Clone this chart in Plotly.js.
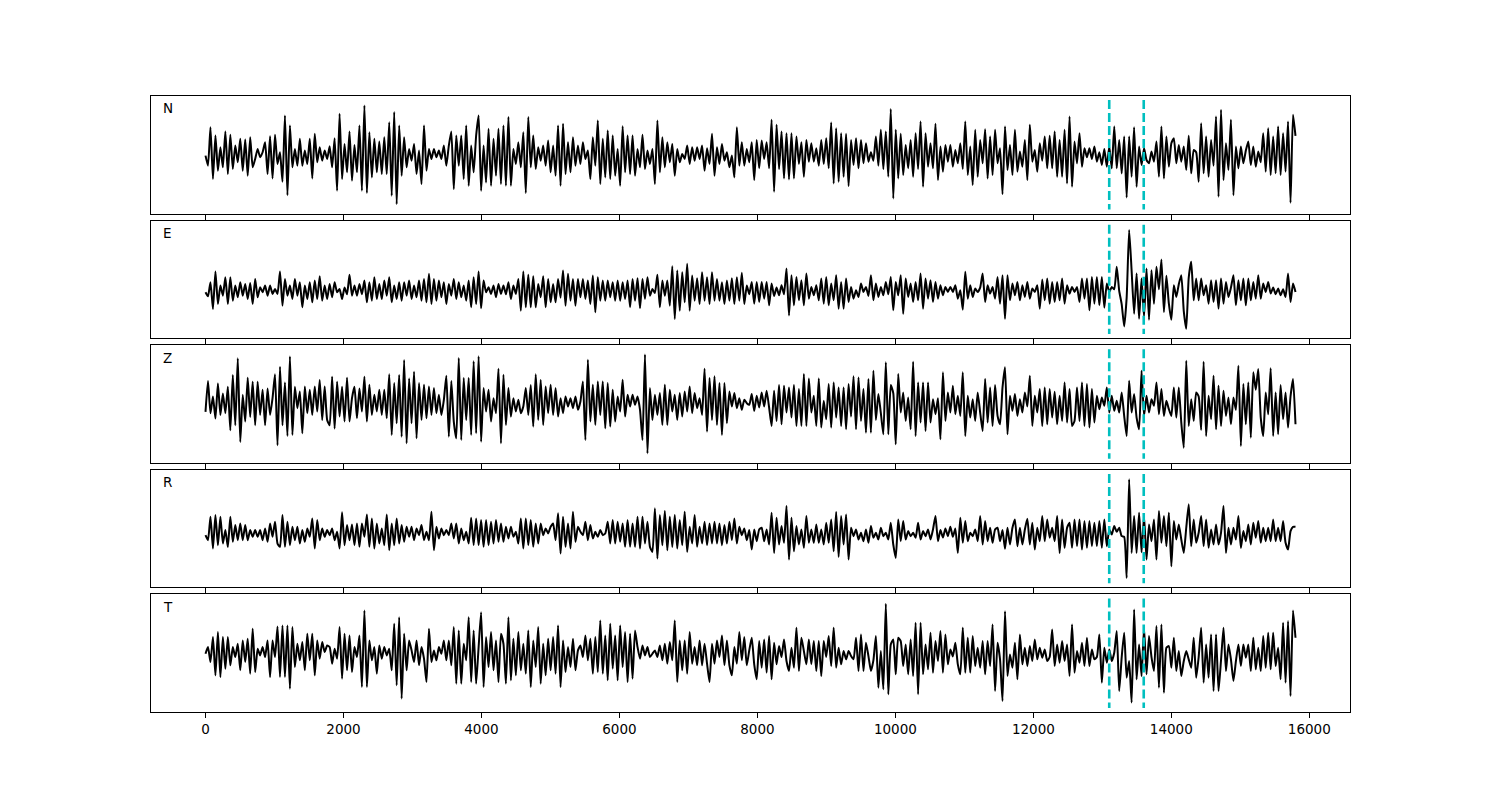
<!DOCTYPE html>
<html>
<head>
<meta charset="utf-8">
<script src="https://cdn.plot.ly/plotly-3.0.1.min.js"></script>
<style>html,body{margin:0;padding:0;background:#fff;}#chart{width:1500px;height:800px;}</style>
</head>
<body>
<div id="chart"></div>
<script>
// ---- data (amplitudes, arbitrary units) ----
const componentLabels = ['N', 'E', 'Z', 'R', 'T'];
const timeStart = 0;
const timeEnd = 15800;
const markerTimes = [13100, 13600];
const tickValues = [0, 2000, 4000, 6000, 8000, 10000, 12000, 14000, 16000];
const tickLabels = ['0', '2000', '4000', '6000', '8000', '10000', '12000', '14000', '16000'];

const ampN = [
0,-30,85,-70,60,-45,25,-35,72,-55, 62,-40,30,-20,50,-45,48,-60,55,-35,
-10,20,-5,10,40,-55,58,-68,62,-25, 10,-78,120,-118,90,-35,20,-30,50,-30,
15,-25,50,-68,65,-20,25,-15,15,-10, 28,-35,52,-105,125,-70,35,-50,72,-75,
32,-50,90,-105,150,-112,70,-65,50,-50, 42,-55,55,-55,100,-120,130,-145,90,-60,
55,-35,20,-15,35,-55,15,-85,90,-45, 20,-10,20,-5,15,-10,30,-30,30,72,
-100,60,-30,60,-70,90,-90,30,-50,60, 120,-105,30,-80,80,-90,50,-60,80,-85,
90,-90,115,-90,20,-25,40,-35,70,-112, 115,-35,60,-40,25,-15,30,-30,45,-50,
30,-60,90,-90,95,-55,40,-50,55,-30, 30,-25,40,-10,15,-70,55,-30,105,-85,
50,-65,75,-70,60,-60,20,-90,88,-50, 60,-55,60,-60,20,-35,62,-40,15,-25,
20,-85,105,-50,55,-35,40,-20,35,-60, 20,-20,5,-10,30,-25,25,-15,25,-10,
30,-45,22,-25,65,-60,25,-25,35,-15, 10,-35,0,-65,85,-30,40,-30,20,-20,
40,-73,47,-38,45,-10,40,-38,107,-108, 92,-40,72,-68,67,-71,67,-68,57,-25,
40,-63,47,-18,37,-18,22,-30,47,-25, 52,-38,99,-83,82,-78,67,-63,65,-91,
47,-28,52,-38,47,-23,37,-18,10,-15, 57,-30,77,-40,72,-63,139,-128,77,-68,
65,-58,32,-38,47,-63,67,-40,102,-93, 67,-33,37,-38,95,-73,27,-48,32,-18,
32,-33,17,-23,37,-40,102,-58,27,-88, 77,-63,47,-23,79,-68,57,-58,77,-23,
22,-115,87,-43,32,-58,77,-48,12,-33, 47,-73,92,-18,17,-48,37,-15,57,-38,
59,-38,72,-63,47,-63,77,-83,117,-93, 42,-23,67,-33,22,-5,22,-10,27,-18,
10,-28,20,-33,27,-38,87,-38,47,-53, 57,-125,57,-63,85,-93,27,-28,22,-13,
-23,12,-18,42,-63,87,-68,57,-33,37, 52,-23,32,-18,27,-43,59,-53,17,10,
-78,97,-53,57,-63,47,-30,117,-123,137, -73,37,-43,107,-118,27,-38,27,-23,15,
42,-28,27,-33,12,-20,67,-48,82,-58, 57,-53,87,-58,67,-48,102,-141,122,59
];

const ampE = [
-4,-16,26,-54,58,-39,16,-14,41,-39, 41,-29,16,-19,26,-14,21,-24,24,-39,
36,-19,11,-4,16,-14,16,-9,6,-9, 58,-44,36,-14,16,-24,36,-14,26,-49,
16,-24,26,-34,31,-24,44,-29,16,-24, 21,-19,26,-4,6,-24,10,-10,48,-14,
16,-14,21,-10,31,-34,26,-29,41,-24, 21,-24,31,-14,41,-34,16,-24,26,-29,
26,-14,31,-24,16,-19,31,-29,36,-34, 51,-39,36,-29,31,-19,26,-39,21,-14,
36,-24,26,-19,16,-29,31,-49,41,-39, 58,-52,31,-4,11,-9,16,-19,21,-9,
16,-10,26,-24,16,-9,36,-59,58,-49, 48,-49,44,-49,21,-19,44,-49,36,-34,
21,-34,36,-20,61,-44,51,-29,36,-44, 36,-19,36,-24,31,-39,46,-64,41,-29,
31,-29,31,-19,26,-29,31,-29,26,-24, 31,-49,36,-29,38,-52,36,-24,41,-14,
6,-6,48,-49,31,-14,31,-44,74,-84, 61,-59,56,-34,81,-59,46,-29,38,-39,
56,-29,41,-39,56,-29,36,-29,26,-39, 31,-29,38,-39,41,-29,54,-39,16,-10,
27,-38,27,-33,27,-23,27,-43,22,-15, 10,-13,17,-10,67,-73,47,-43,42,-28,
32,-43,52,-23,12,-13,17,-28,37,-38, 42,-43,22,-28,47,-53,27,-53,37,-33,
12,-23,2,-18,22,-3,12,-15,47,-28, 22,-18,12,-13,27,-10,42,-58,27,-13,
47,-68,37,-18,22,-33,27,-28,52,-53, 37,-23,32,-33,27,-23,17,-13,12,-3,
12,-3,17,-23,2,-56,57,-23,17,-18, 7,-3,10,52,-33,17,-8,12,-23,42,
-38,47,-83,47,-28,22,-13,27,-28,17, -18,27,-23,7,-3,17,-53,34,-28,37,
-38,27,-33,27,-28,37,-38,17,-8,12, -3,12,-33,37,-23,37,-58,42,-38,42,
-43,42,-50,22,-3,12,5,72,0,-40, -106,-20,182,60,-68,52,-83,37,-78,67,
-86,62,-38,72,5,94,-63,45,-38,-86, 17,-18,20,47,-60,-113,40,87,-28,37,
-28,37,-13,17,-38,32,-33,32,-53,37, -38,27,-18,10,47,-43,32,-28,37,-43,
37,-28,27,-23,47,-23,22,-3,27,-8, 10,-10,7,-13,5,-18,52,-33,22,-3
];

const ampZ = [
-26,66,-30,20,-46,59,-35,29,-30,49, -81,84,-66,134,-116,25,-55,76,-41,64,
-66,64,-35,40,-66,44,-35,15,86,-126, 109,-66,62,-98,139,-95,49,-15,35,-90,
50,-30,40,-35,50,-25,69,-50,50,-50, -66,79,-76,64,-40,49,-55,76,-55,15,
49,-45,44,-25,79,-55,55,-35,25,-25, 40,-35,40,-45,86,-95,60,-60,84,-100,
129,-120,74,-60,94,-105,60,-50,55,-45, 50,-35,45,-30,25,-35,10,82,-100,66,
-55,-105,135,-110,75,-50,75,-95,125,-90, 140,-115,45,-25,40,-55,15,-30,103,-120,
85,-65,45,-40,15,-25,10,-30,-10,45, -35,54,-70,86,-50,69,-65,50,-30,55,
-35,45,-40,15,-30,20,-10,15,-15,20, -20,5,65,-110,130,-55,55,-65,65,-35,
65,-75,60,-70,40,-55,20,-25,70,-40, 25,-10,25,-5,20,-20,-110,145,-150,45,
-50,25,-35,30,-65,55,-65,40,-25,25, -50,30,-40,35,-25,50,-30,30,-15,15,
-35,103,-85,75,-50,80,-65,60,-95,60, -60,35,-10,30,-15,15,-20,10,0,-5,
27,-23,22,-13,32,-10,37,-13,-68,37, -53,54,-63,52,-28,47,-43,54,-68,42,
-68,87,-68,74,-28,22,-68,74,-73,7, -48,57,-73,62,-43,47,-68,47,-78,57,
-40,80,-78,77,-53,42,-88,72,-88,97, -50,27,-30,-93,122,-93,54,30,-123,87,
-28,32,-53,17,-78,124,-98,62,-58,62, -83,62,-58,12,-33,15,-108,92,-53,32,
-28,52,-33,22,-38,92,-98,22,-43,12, -53,32,-28,-83,72,-58,47,-68,54,-38,
-63,47,107,-93,22,-23,27,-38,12,-28, 32,-10,82,-68,22,-28,42,-68,47,-63,
42,-43,34,-63,22,-53,62,-58,42,-68, -53,47,-53,62,-68,57,-73,42,-58,22,
-18,17,-8,47,-28,22,-23,7,-28,32, -38,-98,67,-28,27,-43,-78,97,-38,22,
-28,12,-8,62,-33,42,-38,7,-18,-38, 47,-43,47,-58,-133,127,-68,12,-53,32,
20,-80,124,-98,22,-48,82,-78,52,-68, 37,-38,17,-63,17,-20,112,-128,57,-63,
62,-103,92,40,102,-43,-98,32,-33,104, -98,32,-93,54,-48,32,-73,20,72,-63
];

const ampR = [
-5,-20,50,-45,55,-35,50,-30,10,-40, 50,-25,25,-20,30,-20,25,-20,10,-10,
10,-10,10,-20,15,-25,30,-10,35,-30, -40,55,-40,35,-35,20,-20,20,-30,10,
-25,15,-10,45,-45,40,-20,15,-10,10, -5,15,-20,5,-45,63,-35,25,-20,27,
-35,30,-40,30,-10,57,-40,45,-45,30, -30,15,-35,57,-50,30,-35,45,-30,25,
-25,20,-10,20,-20,15,-5,25,-20,5, -20,65,-50,20,-15,15,-5,10,-5,30,
-15,30,-30,15,-20,5,-30,47,-35,45, -35,40,-40,40,-35,35,-30,40,-25,30,
-25,20,-15,20,-10,5,-30,45,-45,45, -35,40,-40,30,-30,30,-5,15,0,20,
30,-20,60,-60,50,-40,30,-45,65,-25, 20,5,-5,35,-20,25,-15,5,-10,10,
-5,0,35,-30,40,-30,35,-25,30,-40, 40,-40,30,-40,50,-45,50,-30,35,-40,
-55,75,-75,55,-35,67,-50,50,-40,55, -45,40,-35,65,-55,20,-30,55,-40,20,
-30,35,-35,30,-30,35,-30,30,-35,25, -30,35,-20,45,-30,20,-5,15,-20,10,
-48,12,-23,12,17,-23,12,-33,62,-58, 47,-33,22,-28,82,-78,47,-53,22,-33,
12,-43,52,-28,12,-28,27,-28,12,-33, 32,-28,42,-53,64,-70,52,-33,57,-78,
17,-8,12,-18,2,-23,12,-28,22,-13, 2,-18,17,-8,2,-18,32,-33,-73,42,
-23,37,-18,7,-8,2,-13,32,-18,7, -8,12,-18,12,52,-23,10,-12,15,-8,
20,-10,15,-58,47,-28,37,-23,2,-8, 12,-23,52,-33,37,-23,17,-28,12,17,
-23,10,-46,17,-33,17,42,-38,17,-33, 12,44,-33,32,-48,17,-23,52,-23,42,
-13,17,-23,52,-58,42,-43,17,32,-43, 42,-38,42,-48,37,-43,37,-38,32,-38,
37,-43,42,-38,12,-3,22,5,17,-8, -10,-133,162,-58,52,-58,62,-56,52,-78,
27,-23,42,-78,67,-28,52,-38,62,-98, 37,-18,27,-18,-58,17,87,-38,42,-28,
2,52,-38,42,-43,12,-33,27,-33,2, 82,-58,17,-33,17,-18,52,-43,7,-23,
27,-33,32,-13,37,-28,17,-23,17,-23, 42,-23,17,-23,37,-28,-48,7,20,20
];

const ampT = [
0,20,-25,50,-65,65,-70,50,-45,50, -35,20,-10,30,-50,40,-25,45,-60,75,
-55,15,-5,20,-10,40,-70,40,-10,82, -70,85,-70,85,-105,80,-40,30,-20,35,
-50,60,-20,60,-65,40,-15,35,5,25, 20,-30,15,-15,80,-75,60,-50,55,-55,
20,-10,55,-100,130,-100,40,-20,20,-60, 25,-15,20,-5,15,-50,90,-95,110,-135,
60,-50,40,10,-25,40,-35,20,-15,-85, 75,-25,10,-20,20,0,40,-20,40,-35,
80,-90,70,-90,30,-20,110,-85,70,-90, 20,125,-100,50,-40,65,-50,40,-85,60,
30,-90,110,-80,45,-65,65,-50,30,-60, 70,-100,40,-40,80,-90,30,-65,45,-50,
50,-60,85,-100,40,-55,20,-40,45,-50, 10,25,-10,55,-20,45,-60,50,-55,100,
-60,55,-80,90,-45,55,-80,85,-40,65, -85,60,-75,70,20,-15,25,-5,20,-10,
0,10,-10,25,-20,30,-30,35,-20,100, -85,40,-50,40,-60,65,-30,20,-35,40,
-35,30,-30,-85,30,-30,40,-10,55,-35, 40,-35,-65,20,-30,65,-20,50,-35,10,
48,-32,-77,38,-42,43,-57,53,-77,33, -32,23,-10,43,-22,-52,18,-42,78,-52,
48,8,-32,43,-32,38,-52,38,-67,38, -10,53,-37,78,-42,18,-32,8,-17,8,
-7,-17,48,-52,58,-52,33,-7,-52,-20, 53,-102,8,-107,150,-122,28,43,-62,48,
38,-37,28,-62,43,-67,93,-122,93,-62, 28,-47,63,-57,38,-22,68,-57,58,-32,
13,-8,33,-32,-62,78,-57,48,-57,53, -37,18,-42,38,-62,38,-37,88,-112,33,
-17,-142,128,-67,-2,-42,33,-77,58,-32, 18,-37,23,-22,43,-17,18,-12,13,-22,
-10,73,-37,28,-27,38,-22,28,-67,88, -57,8,-27,33,-37,48,-37,13,-17,-10,
58,-87,18,-27,13,-22,3,68,-112,-10, 63,-72,-22,-147,133,-77,28,-67,78,-62,
53,-10,-52,83,-102,88,-117,18,23,-42, 48,-52,8,-67,-22,8,-17,-42,48,-72,
-10,78,-87,28,-72,58,-112,58,-112,-20, 78,-52,28,-17,-82,-22,28,-37,28,-12,
28,-52,48,-47,18,-52,53,-42,63,-47, 63,-37,18,-77,93,-87,98,-127,130,48
];

// ---- figure ----
const series = [ampN, ampE, ampZ, ampR, ampT];
const W = 1500, H = 800;
const plotLeft = 151, plotRight = 1350, plotTop = 96, plotBottom = 712;
const gapFrac = 0.06;
const nPan = series.length;
const panH = (plotBottom - plotTop) / (nPan + (nPan - 1) * gapFrac);
const gapPx = panH * gapFrac;
const baseFont = {family: 'DejaVu Sans, sans-serif', size: 13.5, color: '#000'};

const traces = [];
const layout = {
  width: W, height: H,
  margin: {l: 0, r: 0, t: 0, b: 0},
  paper_bgcolor: '#ffffff', plot_bgcolor: '#ffffff',
  showlegend: false,
  font: baseFont,
  shapes: [], annotations: []
};

series.forEach((amp, k) => {
  const n = amp.length;
  const times = amp.map((_, i) => timeStart + (timeEnd - timeStart) * i / (n - 1));
  const sfx = k === 0 ? '' : String(k + 1);
  traces.push({
    x: times, y: amp, type: 'scatter', mode: 'lines',
    xaxis: 'x' + sfx, yaxis: 'y' + sfx,
    line: {color: '#000000', width: 2, shape: 'spline', smoothing: 0.5},
    hoverinfo: 'skip'
  });
  const top = plotTop + k * (panH + gapPx);
  const bot = top + panH;
  const lo = Math.min(...amp), hi = Math.max(...amp);
  const pad = (hi - lo) * 0.095;
  const isLast = k === nPan - 1;
  layout['xaxis' + sfx] = {
    domain: [plotLeft / W, plotRight / W],
    range: [-790, 16590],
    anchor: 'y' + sfx,
    showgrid: false, zeroline: false,
    showline: true, linecolor: '#000', linewidth: 1, mirror: true,
    ticks: 'outside', ticklen: 5, tickwidth: 1, tickcolor: '#000',
    tickmode: 'array', tickvals: tickValues, ticktext: tickLabels,
    showticklabels: isLast,
    tickfont: baseFont
  };
  if (k > 0) layout['xaxis' + sfx].matches = 'x';
  layout['yaxis' + sfx] = {
    domain: [1 - bot / H, 1 - top / H],
    range: [lo - pad, hi + pad],
    anchor: 'x' + sfx,
    showgrid: false, zeroline: false,
    showline: true, linecolor: '#000', linewidth: 1, mirror: true,
    ticks: '', showticklabels: false
  };
  markerTimes.forEach(t => {
    layout.shapes.push({
      type: 'line', xref: 'x' + sfx, yref: 'y' + sfx + ' domain',
      x0: t, x1: t, y0: 0.965, y1: 0.035,
      line: {color: '#00bfbf', width: 2.6, dash: '9px,4px'}
    });
  });
  layout.annotations.push({
    xref: 'x' + sfx + ' domain', yref: 'y' + sfx + ' domain',
    x: 0.008, y: 0.894, xanchor: 'left', yanchor: 'middle',
    text: componentLabels[k], showarrow: false,
    font: baseFont
  });
});

Plotly.newPlot('chart', traces, layout, {displayModeBar: false, staticPlot: true});
</script>
</body>
</html>
